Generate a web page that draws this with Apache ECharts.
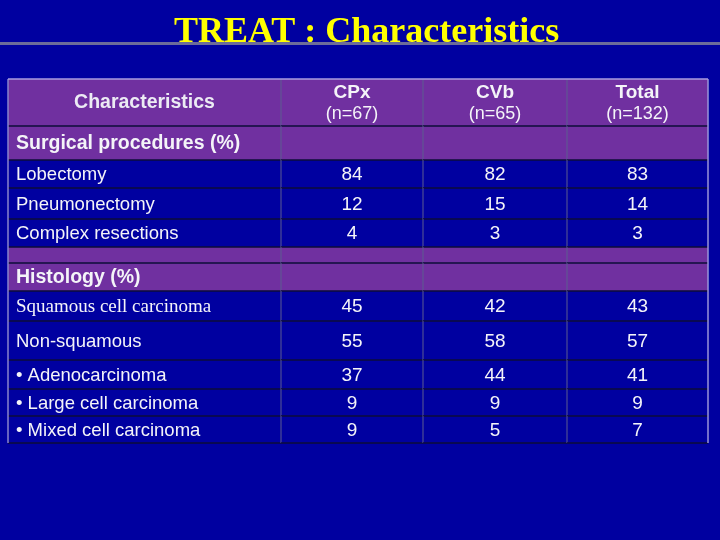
<!DOCTYPE html>
<html>
<head>
<meta charset="utf-8">
<script src="https://cdn.jsdelivr.net/npm/echarts@6/dist/echarts.min.js"></script>
<style>
  html, body { margin: 0; padding: 0; background: #0000a0; }
  #main { width: 720px; height: 540px; }
</style>
</head>
<body>
<div id="main"></div>
<script>
// table content
var columns = ["Characteristics", "CPx", "CVb", "Total"];
var columnN = ["", "(n=67)", "(n=65)", "(n=132)"];
var rowLabels = [
  "Surgical procedures (%)",
  "Lobectomy",
  "Pneumonectomy",
  "Complex resections",
  "",
  "Histology (%)",
  "Squamous cell carcinoma",
  "Non-squamous",
  "\u2022 Adenocarcinoma",
  "\u2022 Large cell carcinoma",
  "\u2022 Mixed cell carcinoma"
];
var cpx   = [null, 84, 12, 4, null, null, 45, 55, 37, 9, 9];
var cvb   = [null, 82, 15, 3, null, null, 42, 58, 44, 9, 5];
var total = [null, 83, 14, 3, null, null, 43, 57, 41, 9, 7];

// layout (table units)
var colEdges = [0, 273, 415, 559, 700];
var rowHeights = [47, 34, 28, 31, 28, 16, 28, 30, 39, 29, 27, 27];
var rowEdges = [0];
rowHeights.forEach(function (h, i) { rowEdges.push(rowEdges[i] + h); });

var BLUE = "#0000a0";
var PURPLE = "#7030a0";
var TXT = "#f4f4f8";

// build cells
var cells = [];
columns.forEach(function (name, c) {
  cells.push({ c: c, r: 0, kind: "head", text: name, n: columnN[c] });
});
rowLabels.forEach(function (label, i) {
  var vals = [cpx[i], cvb[i], total[i]];
  var section = vals[0] === null;
  cells.push({ c: 0, r: i + 1, kind: section ? "section" : "label", text: label, serif: label.indexOf("Squamous") === 0 });
  vals.forEach(function (v, k) {
    cells.push({ c: k + 1, r: i + 1, kind: section ? "section" : "value", text: v === null ? "" : String(v) });
  });
});

function box(api, cell) {
  var p0 = api.coord([colEdges[cell.c], rowEdges[cell.r]]);
  var p1 = api.coord([colEdges[cell.c + 1], rowEdges[cell.r + 1]]);
  return { x: p0[0], y: p0[1], w: p1[0] - p0[0], h: p1[1] - p0[1] };
}

function renderCell(params, api) {
  var cell = cells[params.dataIndex];
  var b = box(api, cell);
  var purple = cell.kind === "head" || cell.kind === "section";
  var children = [{
    type: "rect",
    shape: { x: b.x, y: b.y, width: b.w, height: b.h },
    style: { fill: purple ? PURPLE : BLUE }
  }];
  var cy = b.y + b.h / 2;
  if (cell.kind === "head" && cell.c > 0) {
    children.push({
      type: "text",
      style: {
        x: b.x + b.w / 2, y: cy + 1, align: "center", verticalAlign: "middle",
        text: "{b|" + cell.text + "}\n{n|" + cell.n + "}",
        rich: {
          b: { font: "bold 19px 'Liberation Sans', Arial", fill: TXT, lineHeight: 22, align: "center" },
          n: { font: "18px 'Liberation Sans', Arial", fill: TXT, lineHeight: 22, align: "center" }
        }
      }
    });
  } else if (cell.kind === "head") {
    children.push({
      type: "text",
      style: { x: b.x + b.w / 2, y: cy, align: "center", verticalAlign: "middle",
        text: cell.text, fill: "#ecebf4", font: "bold 19.5px 'Liberation Sans', Arial" }
    });
  } else if (cell.c === 0) {
    children.push({
      type: "text",
      style: { x: b.x + 8, y: cy + 1, align: "left", verticalAlign: "middle", text: cell.text, fill: TXT,
        font: cell.kind === "section" ? "bold 19.5px 'Liberation Sans', Arial"
          : (cell.serif ? "19px 'Liberation Serif', 'Times New Roman'" : "18.5px 'Liberation Sans', Arial") }
    });
  } else {
    children.push({
      type: "text",
      style: { x: b.x + b.w / 2, y: cy + 1, align: "center", verticalAlign: "middle", text: cell.text, fill: TXT,
        font: "19px 'Liberation Sans', Arial" }
    });
  }
  return { type: "group", children: children };
}

function renderLines(params, api) {
  var cell = cells[params.dataIndex];
  var b = box(api, cell);
  var last = cell.c === columns.length - 1;
  var children = [
    { type: "line", shape: { x1: b.x, y1: b.y + b.h, x2: b.x + b.w, y2: b.y + b.h },
      style: { stroke: "#0c0c38", lineWidth: 1.5 } },
    { type: "line", shape: { x1: b.x + b.w, y1: b.y, x2: b.x + b.w, y2: b.y + b.h },
      style: { stroke: last ? "#9a94d8" : "#5c5c90", lineWidth: last ? 1.5 : 1 } }
  ];
  if (cell.c === 0) {
    children.push({ type: "line", shape: { x1: b.x, y1: b.y, x2: b.x, y2: b.y + b.h },
      style: { stroke: "#8a84cc", lineWidth: 1.5 } });
  }
  if (cell.r === 0) {
    children.push({ type: "line", shape: { x1: b.x, y1: b.y, x2: b.x + b.w, y2: b.y },
      style: { stroke: "#a89ee0", lineWidth: 1.5 } });
  }
  return { type: "group", children: children };
}

var myChart = echarts.init(document.getElementById("main"));
var option = {
  backgroundColor: BLUE,
  animation: false,
  grid: { left: 8, right: 12, top: 79, bottom: 97 },
  xAxis: { type: "value", min: 0, max: 700, show: false },
  yAxis: { type: "value", min: 0, max: 364, inverse: true, show: false },
  graphic: [
    { type: "rect", left: 0, top: 42, shape: { width: 720, height: 3 }, style: { fill: "#6c6c9a" }, z: 1 },
    { type: "text", left: 174, top: 15, z: 2,
      style: { text: "TREAT : Characteristics", fill: "#ffff00",
        font: "bold 36px 'Liberation Serif', 'Times New Roman'" } }
  ],
  series: [
    { type: "custom", renderItem: renderCell, data: cells.map(function (d) { return [d.c, d.r]; }), silent: true },
    { type: "custom", renderItem: renderLines, data: cells.map(function (d) { return [d.c, d.r]; }), silent: true, z: 3 }
  ]
};
myChart.setOption(option);
</script>
</body>
</html>
